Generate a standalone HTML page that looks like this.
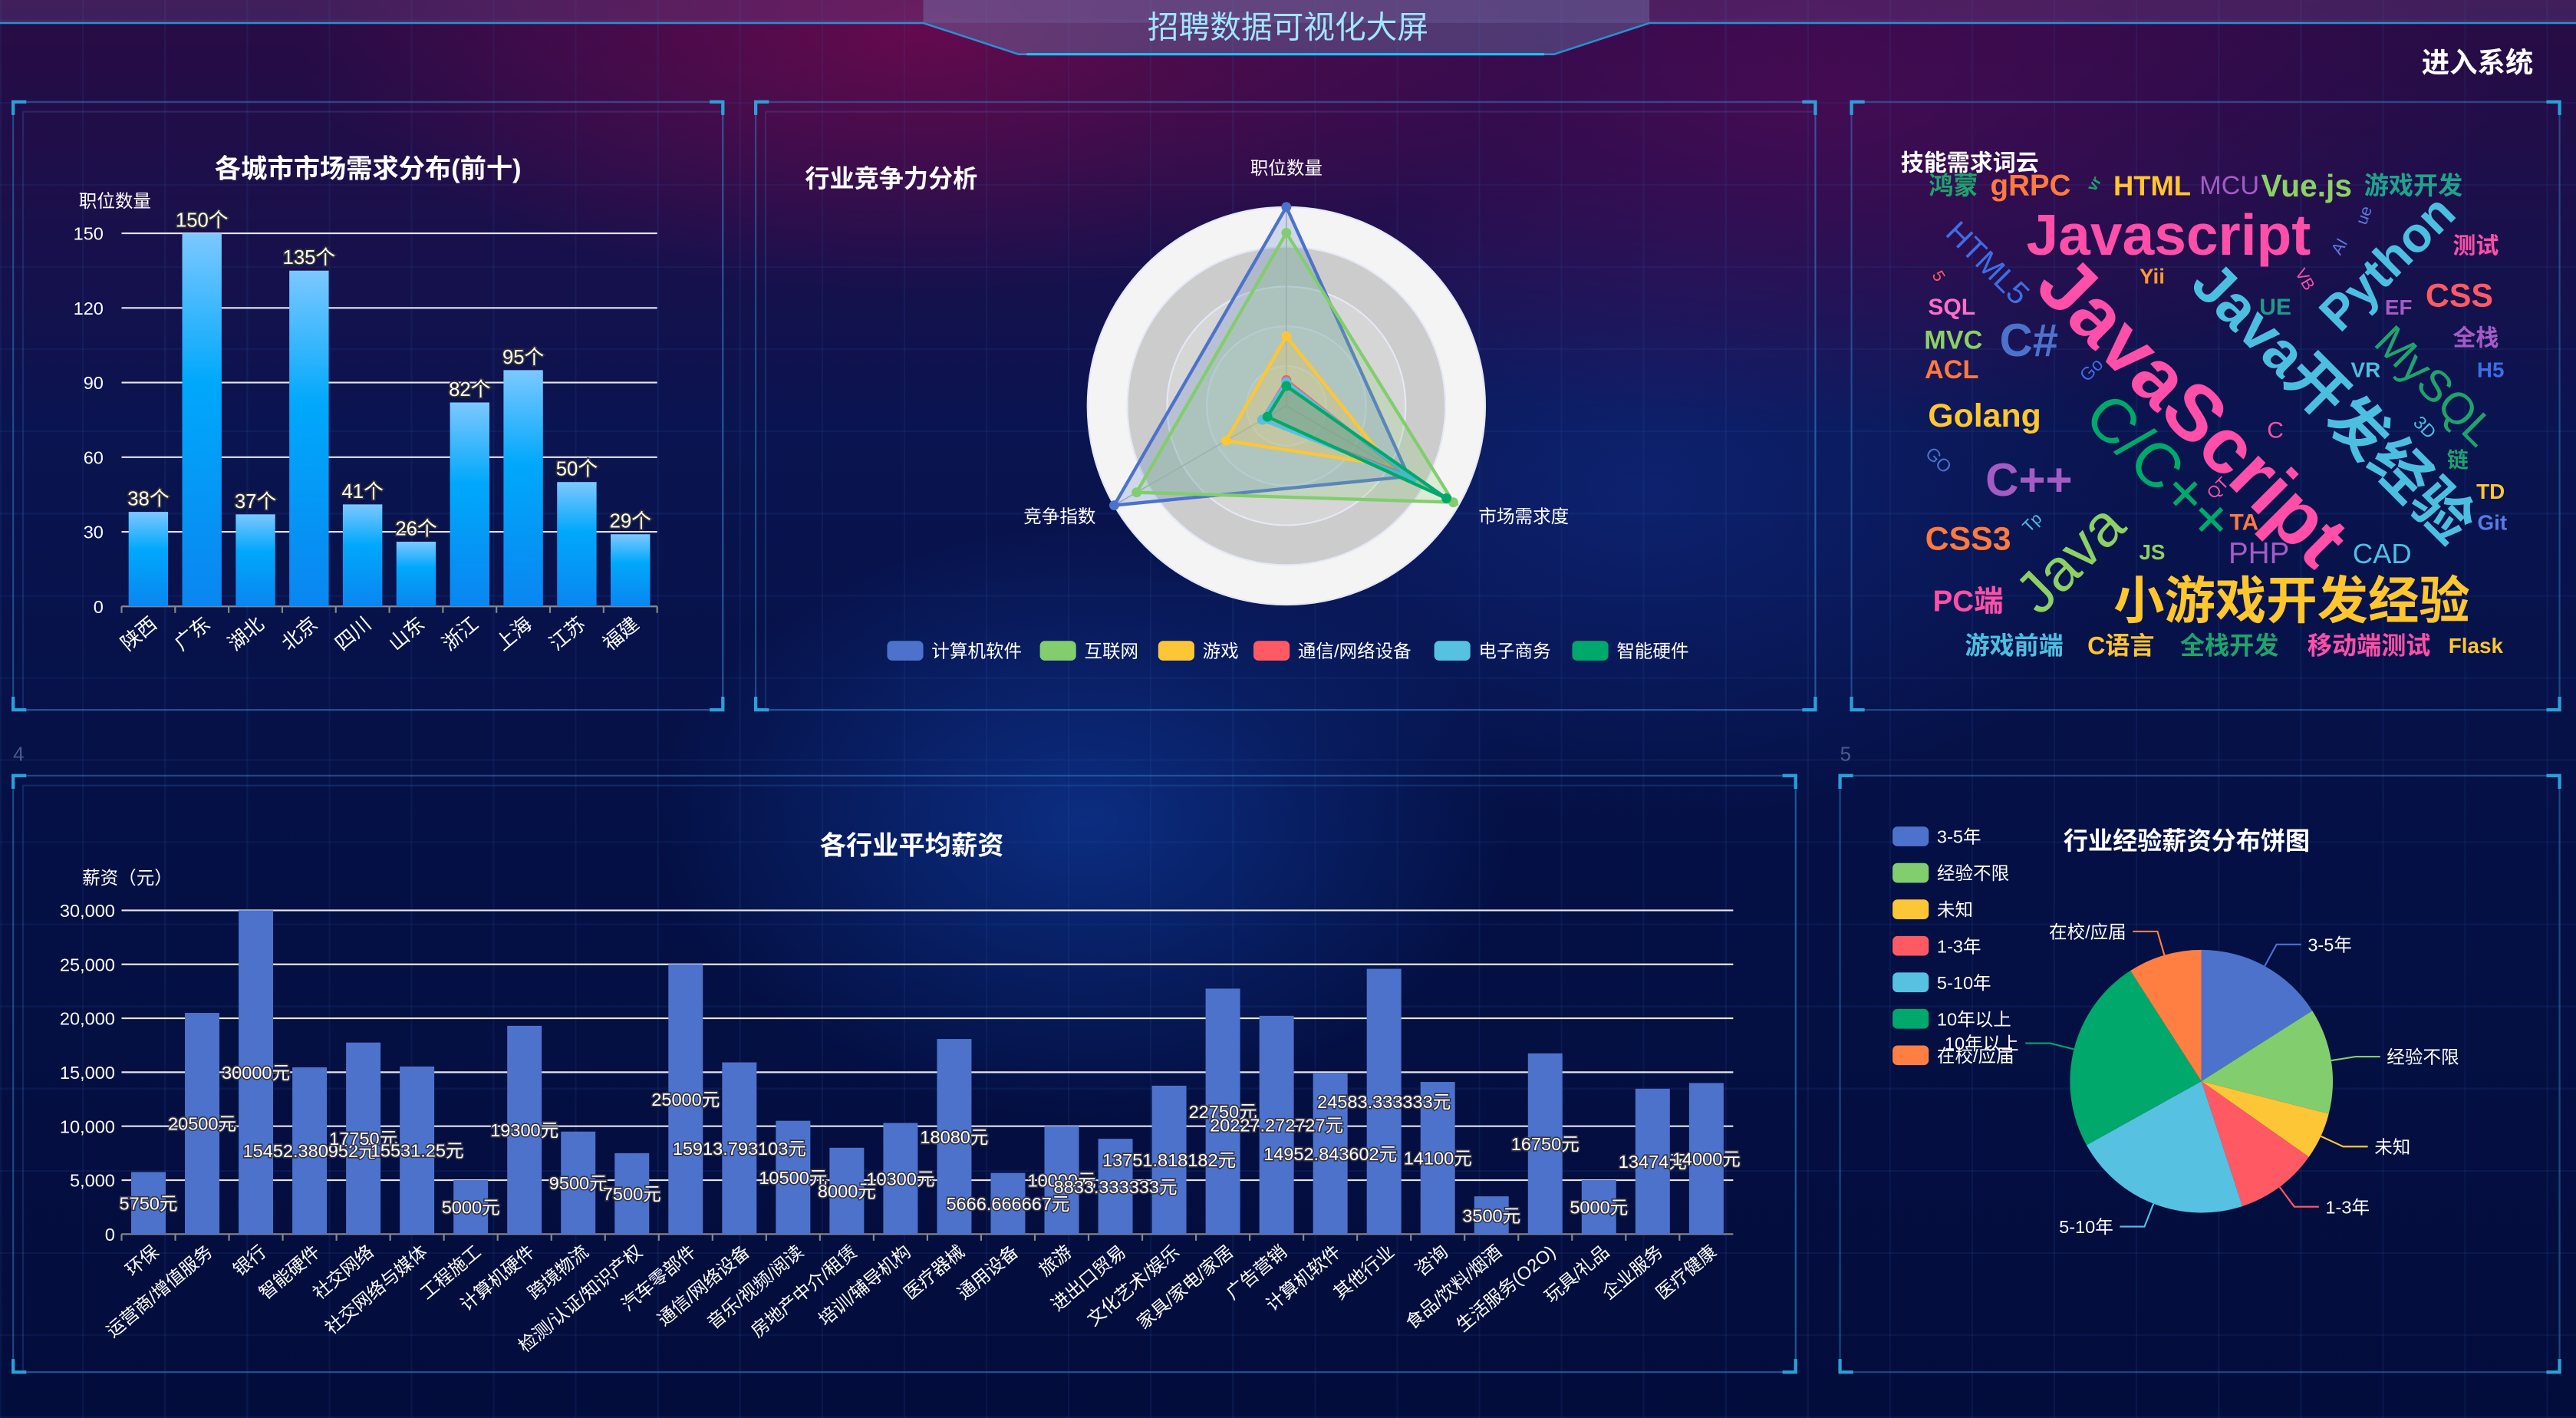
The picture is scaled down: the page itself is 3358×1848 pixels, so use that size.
<!DOCTYPE html>
<html><head><meta charset="utf-8">
<style>
html,body{margin:0;padding:0;width:3358px;height:1848px;overflow:hidden;background:#05103f;}
#wrap{position:absolute;left:0;top:0;width:1568px;height:863px;transform:scale(2.14158);transform-origin:0 0;overflow:hidden;
font-family:"Liberation Sans","Noto Sans CJK SC",sans-serif;color:#fff;
background:
radial-gradient(ellipse 380px 160px at 560px 20px, rgba(120,10,80,.75), rgba(120,10,80,0) 100%),
radial-gradient(ellipse 420px 200px at 1100px 60px, rgba(90,10,90,.6), rgba(90,10,90,0) 100%),
radial-gradient(ellipse 260px 180px at 660px 500px, rgba(20,80,200,.45), rgba(20,80,200,0) 100%),
radial-gradient(ellipse 300px 200px at 1000px 300px, rgba(20,60,170,.35), rgba(20,60,170,0) 100%),
linear-gradient(180deg,#2a0b45 0%,#0a1450 30%,#041045 60%,#030d3c 100%);}
#grid{position:absolute;inset:0;background:
repeating-linear-gradient(90deg, rgba(40,90,170,.14) 0 1px, transparent 1px 50px),
repeating-linear-gradient(0deg, rgba(40,90,170,.14) 0 1px, transparent 1px 50px);}
.title{position:absolute;font-weight:bold;color:#fff;white-space:nowrap;}
svg{position:absolute;left:0;top:0;}
</style></head>
<body>
<div id="wrap">
<div id="grid"></div>
<svg width="1568" height="863">
  <rect x="0" y="0" width="1568" height="14" fill="rgba(130,90,160,.25)"/>
  <polygon points="562,14 620,33 946,33 1004,14 1004,0 562,0" fill="rgba(120,140,190,.35)"/>
  <polyline points="0,14 562,14 620,33 946,33 1004,14 1568,14" fill="none" stroke="#2b8fd0" stroke-width="1.2"/>
  <line x1="625" y1="33" x2="940" y2="33" stroke="#18c2ff" stroke-width="1.5"/>
  <g fill="none" stroke="rgba(50,120,190,.55)" stroke-width="1">
    <rect x="8" y="62" width="432" height="370"/><rect x="14" y="68" width="426" height="364" stroke="rgba(50,120,190,.25)"/>
    <rect x="460" y="62" width="645" height="370"/><rect x="466" y="68" width="639" height="364" stroke="rgba(50,120,190,.25)"/>
    <rect x="1127" y="62" width="431" height="370"/>
    <rect x="8" y="472" width="1085" height="363"/><rect x="14" y="478" width="1079" height="357" stroke="rgba(50,120,190,.25)"/>
    <rect x="1120" y="472" width="438" height="363"/>
  </g>
  <g fill="none" stroke="#2aa0d8" stroke-width="2">
    <path d="M8,70 V62 H16 M432,62 H440 V70 M8,424 V432 H16 M432,432 H440 V424"/>
    <path d="M460,70 V62 H468 M1097,62 H1105 V70 M460,424 V432 H468 M1097,432 H1105 V424"/>
    <path d="M1127,70 V62 H1135 M1550,62 H1558 V70 M1127,424 V432 H1135 M1550,432 H1558 V424"/>
    <path d="M8,480 V472 H16 M1085,472 H1093 V480 M8,827 V835 H16 M1085,835 H1093 V827"/>
    <path d="M1120,480 V472 H1128 M1550,472 H1558 V480 M1120,827 V835 H1128 M1550,835 H1558 V827"/>
  </g>
  <text x="8" y="463" font-size="12" fill="rgba(120,140,180,.6)">4</text>
  <text x="1120" y="463" font-size="12" fill="rgba(120,140,180,.6)">5</text>
</svg>

<div class="title" style="left:0;width:1568px;text-align:center;top:2px;font-size:19px;font-weight:normal;color:#9fe6ff;">招聘数据可视化大屏</div>
<div class="title" style="left:1474px;top:24px;font-size:17px;cursor:pointer;">进入系统</div>

<div class="title" style="left:8px;width:432px;text-align:center;top:89px;font-size:16px;">各城市市场需求分布(前十)</div>
<div class="title" style="left:490px;top:98px;font-size:15px;">行业竞争力分析</div>
<div class="title" style="left:1157px;top:89px;font-size:14px;">技能需求词云</div>
<div class="title" style="left:8px;width:1094px;text-align:center;top:501px;font-size:16px;">各行业平均薪资</div>
<div class="title" style="left:1256px;top:501px;font-size:15px;">行业经验薪资分布饼图</div>

<svg width="1568" height="863" font-family="Liberation Sans, Noto Sans CJK SC, sans-serif" font-weight="bold" text-anchor="middle" dominant-baseline="central">
<text x="1189" y="113" font-size="15" fill="#1fa36c">鸿蒙</text>
<text x="1236" y="113" font-size="18" fill="#ff7a3c">gRPC</text>
<text transform="translate(1275,112) rotate(-60)" font-size="9" fill="#1fa36c">vr</text>
<text x="1310" y="113" font-size="17" fill="#ffc62e">HTML</text>
<text x="1357" y="113" font-size="16" fill="#a55bc4" font-weight="normal">MCU</text>
<text x="1404" y="113" font-size="19" fill="#8dd063">Vue.js</text>
<text x="1469" y="113" font-size="15" fill="#1fa38c">游戏开发</text>
<text x="1320" y="143" font-size="35" fill="#ff4fa8">Javascript</text>
<text transform="translate(1210,160) rotate(45)" font-size="19" fill="#3c6ee6" font-weight="normal">HTML5</text>
<text transform="translate(1453,160) rotate(-45)" font-size="30" fill="#4cbfe0">Python</text>
<text x="1507" y="150" font-size="14" fill="#ff4fa8">测试</text>
<text transform="translate(1439,131) rotate(-70)" font-size="10" fill="#5a7be0" font-weight="normal">ue</text>
<text transform="translate(1424,150) rotate(-60)" font-size="10" fill="#5a7be0" font-weight="normal">AI</text>
<text transform="translate(1180,168) rotate(60)" font-size="10" fill="#ff5a64" font-weight="normal">5</text>
<text x="1310" y="168" font-size="13" fill="#ff9a2e">Yii</text>
<text transform="translate(1403,170) rotate(60)" font-size="10" fill="#ff4fa8" font-weight="normal">VB</text>
<text x="1497" y="180" font-size="20" fill="#ff5a64">CSS</text>
<text x="1460" y="187" font-size="13" fill="#a55bc4">EF</text>
<text x="1385" y="187" font-size="14" fill="#1f9a8c">UE</text>
<text x="1188" y="187" font-size="14" fill="#ff6fc8">SQL</text>
<text x="1189" y="207" font-size="16" fill="#8dd063">MVC</text>
<text x="1188" y="225" font-size="16" fill="#ff7a3c">ACL</text>
<text x="1235" y="207" font-size="28" fill="#4d72cc">C#</text>
<text transform="translate(1335,250) rotate(45)" font-size="48" fill="#ff4fa8">JavaScript</text>
<text transform="translate(1420,245) rotate(45)" font-size="36" fill="#4cbfe0">Java开发经验</text>
<text transform="translate(1482,235) rotate(45)" font-size="27" fill="#1fa36c" font-weight="normal">MySQL</text>
<text x="1507" y="206" font-size="14" fill="#a55bc4">全栈</text>
<text x="1440" y="225" font-size="13" fill="#4cbfe0">VR</text>
<text x="1516" y="225" font-size="13" fill="#3c6ee6">H5</text>
<text transform="translate(1273,225) rotate(-45)" font-size="11" fill="#3c6ee6" font-weight="normal">Go</text>
<text transform="translate(1315,285) rotate(45)" font-size="38" fill="#00a86b" font-weight="normal">C/C++</text>
<text x="1208" y="253" font-size="20" fill="#ffc62e">Golang</text>
<text transform="translate(1180,280) rotate(45)" font-size="11" fill="#4d72cc" font-weight="normal">GO</text>
<text x="1385" y="262" font-size="14" fill="#ff4fa8" font-weight="normal">C</text>
<text transform="translate(1476,260) rotate(45)" font-size="11" fill="#4cbfe0" font-weight="normal">3D</text>
<text x="1496" y="280" font-size="13" fill="#1fa36c">链</text>
<text x="1235" y="292" font-size="28" fill="#a55bc4">C++</text>
<text transform="translate(1350,297) rotate(-45)" font-size="10" fill="#ff4fa8" font-weight="normal">QT</text>
<text x="1516" y="299" font-size="13" fill="#ffc62e">TD</text>
<text x="1517" y="318" font-size="13" fill="#5a7be0">Git</text>
<text x="1366" y="318" font-size="14" fill="#ff7a3c">TA</text>
<text transform="translate(1237,318) rotate(-45)" font-size="10" fill="#4cbfe0" font-weight="normal">Tp</text>
<text x="1198" y="328" font-size="20" fill="#ff7a3c">CSS3</text>
<text transform="translate(1260,340) rotate(-45)" font-size="36" fill="#8dd063" font-weight="normal">Java</text>
<text x="1310" y="336" font-size="13" fill="#8dd063">JS</text>
<text x="1375" y="337" font-size="18" fill="#a55bc4" font-weight="normal">PHP</text>
<text x="1450" y="337" font-size="17" fill="#4cbfe0" font-weight="normal">CAD</text>
<text x="1198" y="366" font-size="18" fill="#ff4fa8">PC端</text>
<text x="1395" y="366" font-size="31" fill="#ffc62e">小游戏开发经验</text>
<text x="1226" y="393" font-size="15" fill="#4cbfe0">游戏前端</text>
<text x="1291" y="393" font-size="15" fill="#ffc62e">C语言</text>
<text x="1357" y="393" font-size="15" fill="#1fa36c">全栈开发</text>
<text x="1442" y="393" font-size="15" fill="#ff4fa8">移动端测试</text>
<text x="1507" y="393" font-size="13" fill="#ffc62e">Flask</text>
</svg>

<svg id="charts" width="1568" height="863" font-family="Liberation Sans, Noto Sans CJK SC, sans-serif"></svg>

<script>
// ---- city chart data ----
const cityNames = ['陕西','广东','湖北','北京','四川','山东','浙江','上海','江苏','福建'];
const cityCounts = [38,150,37,135,41,26,82,95,50,29];
const cityTicks = [0,30,60,90,120,150];
// ---- radar data ----
const radarSeries = ['计算机软件','互联网','游戏','通信/网络设备','电子商务','智能硬件'];
const radarIndicators = ['职位数量','市场需求度','竞争指数'];
const radarJobs = [1.0,0.87,0.35,0.13,0.12,0.10];
const radarDemand = [0.71,0.97,0.60,0.69,0.73,0.93];
const radarCompete = [1.0,0.87,0.35,0.14,0.14,0.11];
// ---- industry salary data ----
const industryNames = ['环保','运营商/增值服务','银行','智能硬件','社交网络','社交网络与媒体','工程施工','计算机硬件','跨境物流','检测/认证/知识产权','汽车零部件','通信/网络设备','音乐/视频/阅读','房地产中介/租赁','培训/辅导机构','医疗器械','通用设备','旅游','进出口贸易','文化艺术/娱乐','家具/家电/家居','广告营销','计算机软件','其他行业','咨询','食品/饮料/烟酒','生活服务(O2O)','玩具/礼品','企业服务','医疗健康'];
const industrySalary = [5750,20500,30000,15452.380952,17750,15531.25,5000,19300,9500,7500,25000,15913.793103,10500,8000,10300,18080,5666.666667,10000,8833.333333,13751.818182,22750,20227.272727,14952.843602,24583.333333,14100,3500,16750,5000,13474,14000];
const salaryTicks = [0,5000,10000,15000,20000,25000,30000];
// ---- pie data ----
const pieNames = ['3-5年','经验不限','未知','1-3年','5-10年','10年以上','在校/应届'];
const pieValues = [16,13,5.8,10.2,22,24,9.1];

const palette = ['#4d72cc','#82cd6d','#fdc636','#ff5a64','#56c1e0','#00a86b','#ff7f42'];
const NS='http://www.w3.org/2000/svg';
const root=document.getElementById('charts');
function mk(tag,attrs,parent){const e=document.createElementNS(NS,tag);for(const k in attrs)e.setAttribute(k,attrs[k]);(parent||root).appendChild(e);return e;}

const defs=mk('defs',{});
const lg=mk('linearGradient',{id:'cityGrad',x1:0,y1:0,x2:0,y2:1},defs);
mk('stop',{offset:'0','stop-color':'#7cc8ff'},lg);
mk('stop',{offset:'0.4','stop-color':'#00a8fb'},lg);
mk('stop',{offset:'1','stop-color':'#0a86f0'},lg);

// ===== City bar chart =====
(function(){
  const g=mk('g',{});
  
  
  const x0=74,x1=400,y0=369,y1=142,maxV=150;
  const ys=v=>y0-(v/maxV)*(y0-y1);
  const band=(x1-x0)/cityNames.length;
  const t=mk('text',{x:48,y:126,'font-size':11,fill:'#fff'},g);t.textContent='职位数量';
  
  
  cityTicks.forEach(v=>{
    if(v>0){const l=mk('line',{x1:x0,x2:x1,y1:ys(v),y2:ys(v),stroke:'#e6e6f0','stroke-width':1},g);
    
    }
    const tx=mk('text',{x:63,y:ys(v)+4,'font-size':11,fill:'#fff','text-anchor':'end'},g);tx.textContent=v;
    
    
  });
  const ax=mk('line',{x1:x0,x2:x1,y1:y0,y2:y0,stroke:'#888','stroke-width':1},g);
  
  
  cityNames.forEach((n,i)=>{
    const cx=x0+band*(i+0.5),v=cityCounts[i],bw=24;
    const tk=mk('line',{x1:x0+band*i,x2:x0+band*i,y1:y0,y2:y0+4,stroke:'#888'},g);
    
    
    const r=mk('rect',{x:cx-bw/2,y:ys(v),width:bw,height:y0-ys(v),fill:'url(#cityGrad)'},g);
    
    
    const lb=mk('text',{x:cx,y:ys(v)-4,'font-size':12,fill:'#fff',stroke:'#333','stroke-width':1.6,'paint-order':'stroke','text-anchor':'middle'},g);lb.textContent=v+'个';
    
    
    const cl=mk('text',{transform:`translate(${cx+6},${y0+12}) rotate(-40)`,'font-size':12,fill:'#fff','text-anchor':'end'},g);cl.textContent=n;
    
    
  });
  const ex=mk('line',{x1:x1,x2:x1,y1:y0,y2:y0+4,stroke:'#888'},g);
  
  
})();

// ===== Radar chart =====
(function(){
  const g=mk('g',{});
  
  
  const cx=783,cy=247,R=121;
  const rings=[[R,'#f4f4f4'],[R*0.8,'#cccccc'],[R*0.6,'#d6d6d6'],[R*0.4,'#dadada'],[R*0.2,'#dedede']];
  rings.forEach((r,i)=>{const c=mk('circle',{cx,cy,r:r[0],fill:r[1],stroke:'#e4e8f6','stroke-width':1},g);
    
    });
  const angles=[-90,30,150].map(a=>a*Math.PI/180);
  angles.forEach(a=>{const l=mk('line',{x1:cx,y1:cy,x2:cx+R*Math.cos(a),y2:cy+R*Math.sin(a),stroke:'#bbb','stroke-width':0.8},g);
    
    });
  const lblPos=[[cx,106,'middle'],[900,318,'start'],[667,318,'end']];
  radarIndicators.forEach((n,i)=>{const t=mk('text',{x:lblPos[i][0],y:lblPos[i][1],'font-size':11,fill:'#fff','text-anchor':lblPos[i][2]},g);t.textContent=n;
    
    });
  radarSeries.forEach((s,i)=>{
    const vals=[radarJobs[i],radarDemand[i],radarCompete[i]];
    const pts=vals.map((v,k)=>[cx+R*v*Math.cos(angles[k]),cy+R*v*Math.sin(angles[k])]);
    const p=mk('polygon',{points:pts.map(q=>q.join(',')).join(' '),fill:palette[i],'fill-opacity':0.22,stroke:palette[i],'stroke-width':2},g);
    
    
    pts.forEach(q=>{const d=mk('circle',{cx:q[0],cy:q[1],r:3,fill:palette[i]},g);
      
      });
  });
  const lx=[540,633,705,763,873,957];
  radarSeries.forEach((s,i)=>{
    const r=mk('rect',{x:lx[i],y:390,width:22,height:12,rx:3,fill:palette[i]},g);
    
    
    const t=mk('text',{x:lx[i]+27,y:400,'font-size':11,fill:'#fff'},g);t.textContent=s;
    
    
  });
})();

// ===== Industry salary bar chart =====
(function(){
  const g=mk('g',{});
  
  
  const x0=74,x1=1055,y0=751,y1=554,maxV=30000;
  const ys=v=>y0-(v/maxV)*(y0-y1);
  const band=(x1-x0)/industryNames.length;
  const t=mk('text',{x:50,y:538,'font-size':11,fill:'#fff'},g);t.textContent='薪资（元）';
  
  
  salaryTicks.forEach(v=>{
    if(v>0){const l=mk('line',{x1:x0,x2:x1,y1:ys(v),y2:ys(v),stroke:'#e6e6f0','stroke-width':1},g);
    
    }
    const tx=mk('text',{x:70,y:ys(v)+4,'font-size':11,fill:'#fff','text-anchor':'end'},g);tx.textContent=v.toLocaleString('en-US');
    
    
  });
  const ax=mk('line',{x1:x0,x2:x1,y1:y0,y2:y0,stroke:'#888'},g);
  
  
  industryNames.forEach((n,i)=>{
    const cx=x0+band*(i+0.5),v=industrySalary[i],bw=21;
    const tk=mk('line',{x1:x0+band*i,x2:x0+band*i,y1:y0,y2:y0+4,stroke:'#888'},g);
    
    
    const r=mk('rect',{x:cx-bw/2,y:ys(v),width:bw,height:y0-ys(v),fill:'#4d72cc'},g);
    
    
    const cl=mk('text',{transform:`translate(${cx+7},${y0+12}) rotate(-40)`,'font-size':11,fill:'#fff','text-anchor':'end'},g);cl.textContent=n;
    
    
  });
  industryNames.forEach((n,i)=>{
    const cx=x0+band*(i+0.5),v=industrySalary[i];
    const lb=mk('text',{x:cx,y:(ys(v)+y0)/2+4,'font-size':11,fill:'#fff',stroke:'#334','stroke-width':1.5,'paint-order':'stroke','text-anchor':'middle'},g);
    lb.textContent=(Math.round(v*1e6)/1e6)+'元';
    
    
  });
})();

// ===== Pie chart =====
(function(){
  const g=mk('g',{});
  
  
  const cx=1340,cy=658,R=80;
  const total=pieValues.reduce((a,b)=>a+b,0);
  let a0=0;
  pieValues.forEach((v,i)=>{
    const a1=a0+v/total*2*Math.PI;
    const p=(a)=>[cx+R*Math.sin(a),cy-R*Math.cos(a)];
    const s=p(a0),e=p(a1),large=(a1-a0)>Math.PI?1:0;
    const path=mk('path',{d:`M${cx},${cy} L${s[0]},${s[1]} A${R},${R} 0 ${large} 1 ${e[0]},${e[1]} Z`,fill:palette[i]},g);
    
    
    const am=(a0+a1)/2,sx=Math.sin(am),sy=-Math.cos(am);
    const p1=[cx+R*sx,cy+R*sy],p2=[cx+(R+15)*sx,cy+(R+15)*sy];
    const dir=sx>=0?1:-1,p3=[p2[0]+dir*15,p2[1]];
    const ln=mk('polyline',{points:[p1,p2,p3].map(q=>q.join(',')).join(' '),fill:'none',stroke:palette[i],'stroke-width':1},g);
    
    
    const t=mk('text',{x:p3[0]+dir*4,y:p3[1]+4,'font-size':11,fill:'#fff','text-anchor':dir>0?'start':'end'},g);t.textContent=pieNames[i];
    
    
    a0=a1;
  });
  pieNames.forEach((n,i)=>{
    const y=503+i*22.2;
    const r=mk('rect',{x:1152,y:y,width:22,height:12,rx:3,fill:palette[i]},g);
    
    
    const t=mk('text',{x:1179,y:y+10,'font-size':11,fill:'#fff'},g);t.textContent=n;
    
    
  });
})();
</script>
</div>
</body></html>
